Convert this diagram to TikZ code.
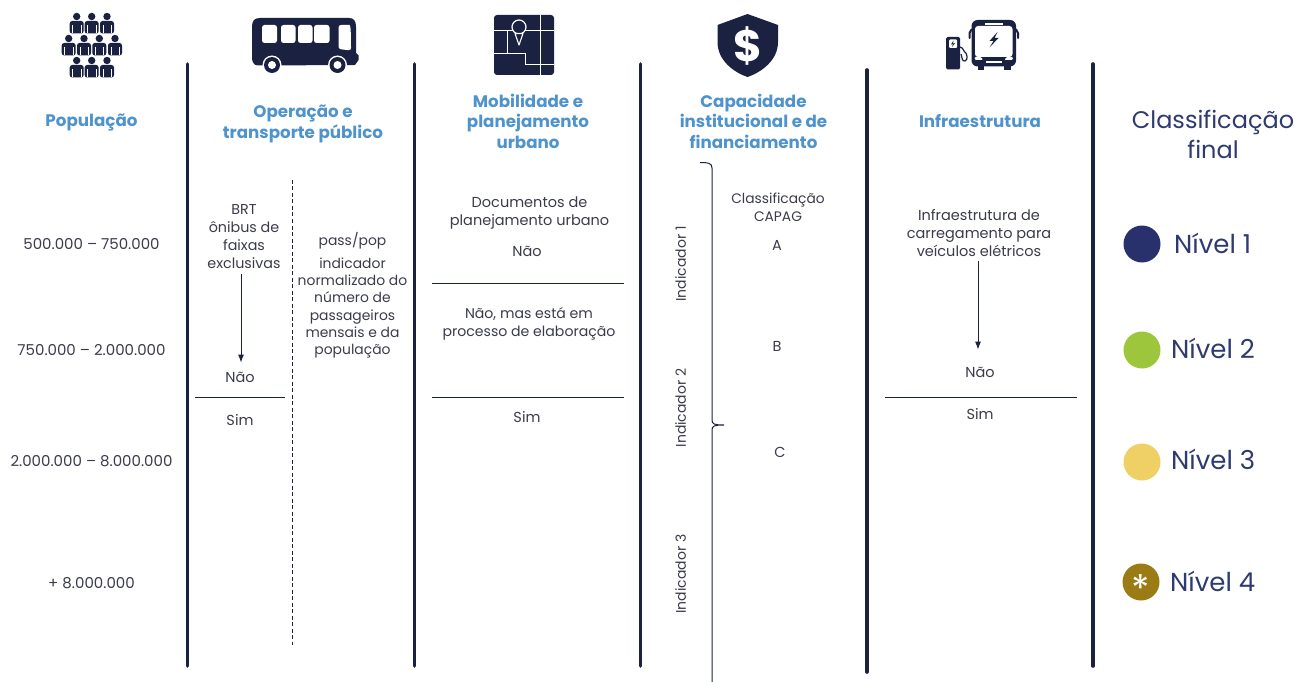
\documentclass[tikz,border=0pt]{standalone}
\usepackage{fontspec}
\setmainfont{Poppins}
\usetikzlibrary{arrows.meta}
\definecolor{navy}{HTML}{1B2141}
\definecolor{headblue}{HTML}{4F93CC}
\definecolor{txt}{HTML}{3A3C4A}
\definecolor{indigo}{HTML}{2E3A70}
\definecolor{lv1}{HTML}{28316B}
\definecolor{lv2}{HTML}{9DC63C}
\definecolor{lv3}{HTML}{EFD065}
\definecolor{lv4}{HTML}{9A7B14}
\tikzset{
 x=1pt,y=-1pt,
 sep/.style={navy,line width=3.6pt,line cap=round},
 rule/.style={navy,line width=0.9pt},
 head/.style={font=\fontsize{16.7}{20.5}\selectfont\bfseries,text=headblue,align=center,inner sep=0},
 body/.style={font=\fontsize{14.5}{18}\selectfont,text=txt,align=center,inner sep=0},
 popn/.style={body,font=\fontsize{15}{18}\selectfont},
 small/.style={body,font=\fontsize{13.9}{17.2}\selectfont},
 final/.style={font=\fontsize{24}{30}\selectfont,text=indigo,align=center,inner sep=0},
 level/.style={font=\fontsize{26}{30}\selectfont,text=indigo,anchor=west,inner sep=0},
 dot/.style={circle,minimum size=37pt,inner sep=0},
 arr/.style={navy,line width=0.9pt,-{Latex[length=8pt,width=6pt]}},
 person/.pic={
  \fill[navy] (0,0) circle (3.7);
  \fill[navy,rounded corners=2.5] (-7,17) -- (-7,4.5) -- (7,4.5) -- (7,17) -- cycle;
  \draw[white,line width=0.5pt] (-4.2,9) -- (-4.2,17) (4.2,9) -- (4.2,17);
 }
}
\begin{document}
\begin{tikzpicture}
\useasboundingbox (0,0) rectangle (1294,682);
% separators
\foreach \n/\x/\a/\b in {a/187.5/64/666,b/414.5/64/666,c/640.5/64/666,d/867/70/672,e/1093/64/666}{
 \coordinate (s\n t) at (\x,\a); \coordinate (s\n b) at (\x,\b);
 \draw[sep] (s\n t) -- (s\n b);
}
% headings
\node[head] (h1) at (91.5,122) {População};
\node[head] (h2) at (303,124) {Operação e\\transporte público};
\node[head] (h3) at (528,121) {Mobilidade e\\planejamento\\urbano};
\node[head] (h4) at (753.5,121) {Capacidade\\institucional e de\\financiamento};
\node[head] (h5) at (980,121) {Infraestrutura};
\node[final] (h6) at (1213,134) {Classificação\\final};
% population
\node[popn] (p1) at (91.5,244) {500.000 – 750.000};
\node[popn] (p2) at (91.5,350) {750.000 – 2.000.000};
\node[popn] (p3) at (91.5,461) {2.000.000 – 8.000.000};
\node[popn] (p4) at (91.5,583) {+ 8.000.000};
% operacao
\node[small,font=\fontsize{14.3}{18}\selectfont] (brt) at (244,237) {BRT\\ônibus de\\faixas\\exclusivas};
\node[body] (nao1) at (240,377) {Não};
\coordinate (r1a) at (195,397); \coordinate (r1b) at (285,397);
\draw[rule] (r1a) -- (r1b);
\node[body] (sim1) at (240,420) {Sim};
\draw[arr,shorten <=5pt,shorten >=9pt] ([xshift=-3pt]brt.south) -- ([xshift=1pt]nao1.north);
\coordinate (da) at (292.5,180); \coordinate (db) at (292.5,645);
\draw[navy,line width=0.9pt,dash pattern=on 4pt off 2.5pt] (da) -- (db);
\node[small] (pp) at (352.5,241) {pass/pop};
\node[small] (ind) at (352.5,308) {indicador\\normalizado do\\número de\\passageiros\\mensais e da\\população};
% mobilidade
\node[body] (doc) at (529.5,213) {Documentos de\\planejamento urbano};
\node[body] (nao2) at (527,251) {Não};
\coordinate (r2a) at (432,283); \coordinate (r2b) at (624,283);
\draw[rule] (r2a) -- (r2b);
\node[small,font=\fontsize{14.1}{18}\selectfont] (proc) at (529,324) {Não, mas está em\\processo de elaboração};
\coordinate (r3a) at (432,397); \coordinate (r3b) at (624,397);
\draw[rule] (r3a) -- (r3b);
\node[body] (sim2) at (527,417) {Sim};
% capacidade
\node[small,font=\fontsize{14}{18}\selectfont,rotate=90] (i1) at (680.5,264) {Indicador 1};
\node[small,font=\fontsize{14}{18}\selectfont,rotate=90] (i2) at (680.5,408) {Indicador 2};
\node[small,font=\fontsize{14}{18}\selectfont,rotate=90] (i3) at (680.5,574) {Indicador 3};
\draw[navy,line width=1pt] (700,162.5) .. controls (708,162.5) and (712,163) .. (712,168) -- (712,420) .. controls (712,424) and (714,425) .. (724,425) .. controls (714,425) and (712,426) .. (712,430) -- (712,682);
\node[small,font=\fontsize{13.8}{18}\selectfont] (cap) at (778,207) {Classificação\\CAPAG};
\node[body] (ca) at (777,245) {A};
\node[body] (cb) at (777,346) {B};
\node[body] (cc) at (780,452) {C};
% infra
\node[body] (car) at (979,233) {Infraestrutura de\\carregamento para\\veículos elétricos};
\node[body] (nao3) at (980,372) {Não};
\coordinate (r4a) at (885,397); \coordinate (r4b) at (1077,397);
\draw[rule] (r4a) -- (r4b);
\node[body] (sim3) at (980,414) {Sim};
\draw[arr,shorten <=4pt,shorten >=17pt] ([xshift=-1pt]car.south) -- ([xshift=-2pt]nao3.north);
% final legend
\node[dot,fill=lv1] (l1) at (1142,244) {};
\node[level] (t1) at (1174,243) {Nível 1};
\node[dot,fill=lv2] (l2) at (1142,350) {};
\node[level] (t2) at (1171,348) {Nível 2};
\node[dot,fill=lv3] (l3) at (1142,462) {};
\node[level] (t3) at (1171,459) {Nível 3};
\node[dot,fill=lv4] (l4) at (1141,582) {};
\node[font=\fontsize{38}{38}\selectfont,text=white,inner sep=0] (star) at (1141,588.5) {*};
\node[level] (t4) at (1170,581) {Nível 4};
% icon: people
\foreach \x/\y in {76.7/16.5,91.7/16.5,107/16.5,68.7/38.5,84/38.5,99.3/38.5,115/38.5,76.7/60.5,91.7/60.5,107/60.5}{
 \pic at (\x,\y) {person};
}
% icon: bus
\fill[navy] (252,27) .. controls (252,21) and (254,18) .. (260,18) -- (349,18) .. controls (354,18) and (356,21) .. (356,27) -- (356,53) -- (358.5,55.5) -- (358.5,60) -- (355,65) -- (258,65.5) .. controls (254,65.5) and (252,62) .. (252,58) -- cycle;
\foreach \a/\w in {262/15,281/14.5,298/14.5,314/15.5}{
 \fill[white,rounded corners=2.5] (\a,25) rectangle ++(\w,18);
}
\fill[white,rounded corners=2.5] (338.5,25) -- (347,25) .. controls (350.5,25) and (351,30) .. (351,50.5) -- (338.5,49) -- cycle;
\foreach \a in {272,337.5}{
 \fill[white] (\a,65) circle (9.5);
 \fill[navy] (\a,65) circle (8);
 \fill[white] (\a,65) circle (4);
}
% icon: map
\fill[navy,rounded corners=3] (494,15) rectangle (554,75);
\draw[white,line width=1pt] (494,31) -- (554,31) (540,15) -- (540,75) (494,53.5) -- (525,53.5) -- (525,65) -- (554,65) (507,31) -- (507,53.5);
\draw[white,line width=1.2pt,fill=navy] (519,27) circle (7);
\draw[white,line width=1.1pt,fill=navy,line join=round] (515,33.5) -- (519,45) -- (523,33.5) -- cycle;
% icon: shield
\fill[navy] (747.5,14) -- (778,25) -- (778,42) .. controls (778,60) and (762,72) .. (747.5,77) .. controls (733,72) and (717.5,60) .. (717.5,42) -- (717.5,25) -- cycle;
\node[font=\fontsize{44}{44}\selectfont\bfseries,text=white,inner sep=0] (dollar) at (747.5,45.5) {\$};
% icon: charger + bus
\fill[navy,rounded corners=1.5] (946,37) rectangle (960,69.5);
\fill[white,rounded corners=1] (949,39.5) rectangle (957,48);
\fill[navy] (953.5,40.5) -- (951,44.5) -- (953,44) -- (952,47) -- (955,43) -- (953,43.5) -- cycle;
\draw[navy,line width=1.2pt] (960,47) .. controls (963,47) and (962,49) .. (964,51) .. controls (968,54) and (968,60) .. (965,61) .. controls (962,62) and (962,57) .. (961,54);
\fill[navy,rounded corners=6] (971.5,20) rectangle (1016,66.5);
\fill[navy] (978,64) rectangle (984,70); \fill[navy] (1004,64) rectangle (1010.5,70);
\draw[navy,line width=2pt,line cap=round,rounded corners=2] (969.5,38) -- (969.5,31) -- (973,29);
\draw[navy,line width=2pt,line cap=round,rounded corners=2] (1018,38) -- (1018,31) -- (1015,29);
\fill[white,rounded corners=3] (975,26) -- (1012.5,26) -- (1012.5,57) -- (975,57) -- cycle;
\fill[white] (985,23) rectangle (1003,25);
\fill[white,rounded corners=1] (974.5,57) -- (981,57) -- (983,60) -- (975,60) -- cycle;
\fill[white,rounded corners=1] (1013,57) -- (1006.5,57) -- (1004.5,60) -- (1012.5,60) -- cycle;
\fill[white] (986,61.5) rectangle (1002,63.5);
\fill[navy] (997.5,32) -- (989.5,41) -- (993.5,41) -- (989.5,47.5) -- (998.5,38) -- (994.5,38) -- cycle;
\end{tikzpicture}
\end{document}
